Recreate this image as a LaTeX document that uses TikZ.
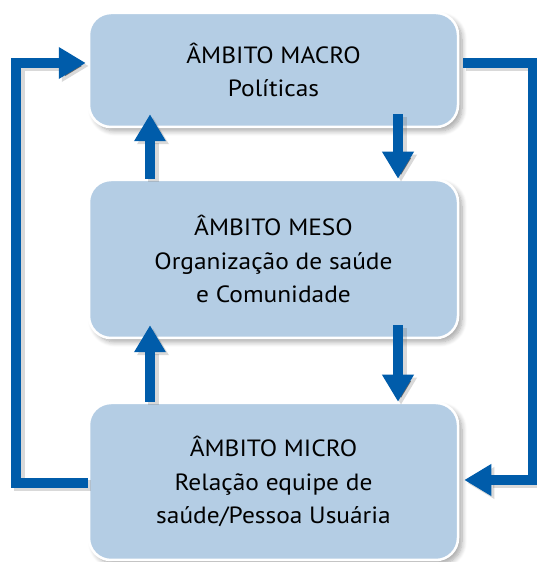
\documentclass[tikz,border=0pt]{standalone}
\usepackage{fontspec}
\setmainfont[FakeStretch=1.08]{PT Sans}
\usetikzlibrary{arrows.meta,shadows.blur,calc}
\definecolor{boxfill}{RGB}{180,205,228}
\definecolor{arrblue}{RGB}{0,92,170}
\tikzset{
  ambox/.style={draw=white, line width=2.5pt, fill=boxfill, rounded corners=22pt,
    minimum width=369pt, inner sep=0pt, align=center,
    font=\fontsize{23.5}{33.5}\selectfont,
    blur shadow={shadow xshift=4pt, shadow yshift=-4pt, shadow blur steps=8, shadow opacity=35, shadow blur radius=5pt}},
  arr/.style={draw=arrblue, line width=10pt, line join=miter,
    -{Triangle[width=30pt,length=27pt]},
    preaction={draw=black!60, draw opacity=0.25, line width=11pt,
      transform canvas={shift={(3pt,-3pt)}}}}
}
\begin{document}
\begin{tikzpicture}[x=1pt,y=1pt]
\useasboundingbox (0,0) rectangle (537,562);
\node[ambox, minimum height=114pt] (macro) at (273.5,492) {\raisebox{-4pt}{\parbox{330pt}{\centering ÂMBITO MACRO\\Políticas}}};
\node[ambox, minimum height=158pt] (meso) at (273.5,303) {ÂMBITO MESO\\Organização de saúde\\e Comunidade};
\node[ambox, minimum height=157pt] (micro) at (273.5,80.5) {ÂMBITO MICRO\\Relação equipe de\\saúde/Pessoa Usuária};
\coordinate (ux) at (150,0);
\coordinate (dx) at (398,0);
\coordinate (lx) at (16,0);
\coordinate (rx) at (533,0);
\coordinate (ly) at (0,499);
\coordinate (ry) at (0,82);
% vertical arrows
\draw[arr] (meso.north -| ux) -- ([yshift=14pt]macro.south -| ux);
\draw[arr] ([yshift=14pt]macro.south -| dx) -- (meso.north -| dx);
\draw[arr] (micro.north -| ux) -- ([yshift=14pt]meso.south -| ux);
\draw[arr] ([yshift=14pt]meso.south -| dx) -- (micro.north -| dx);
% loops
\draw[arr] (micro.west |- 0,79) -| (lx |- ly) -- ([xshift=-2pt]macro.west |- ly);
\draw[arr] ([xshift=4pt]macro.east |- ly) -| (rx |- ry) -- ([xshift=5pt]micro.east |- ry);
\end{tikzpicture}
\end{document}
